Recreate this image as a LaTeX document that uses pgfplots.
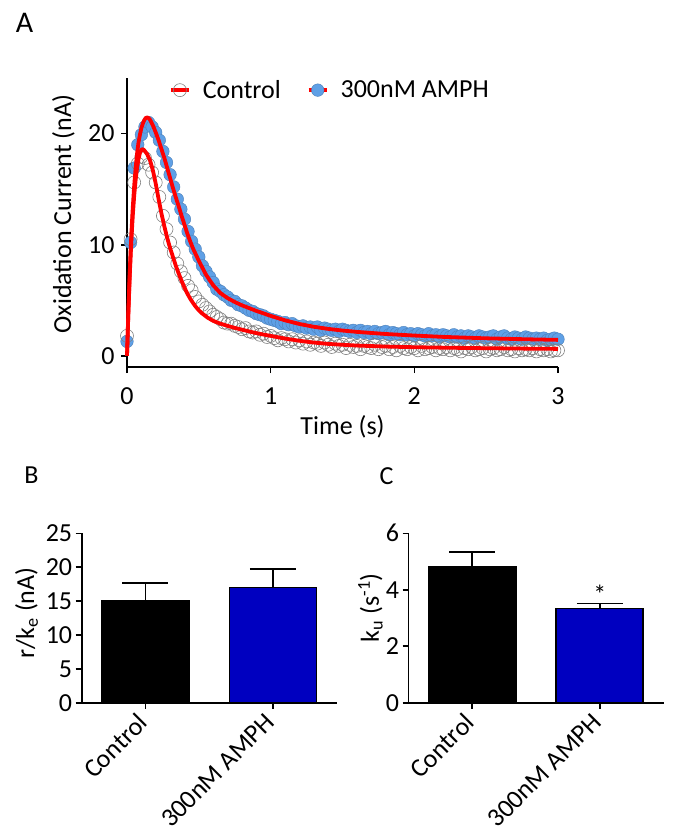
\documentclass[border=0pt]{standalone}
\usepackage{fontspec}
\setmainfont{Carlito}
\usepackage{pgfplots}
\usepackage{pgfplotstable}
\pgfplotsset{compat=1.18}
\definecolor{ampblue}{RGB}{95,160,230}
\definecolor{barblue}{RGB}{0,0,192}
\newcommand{\fs}{\fontsize{26pt}{31pt}\selectfont}

\pgfplotstableread{
t ctrl amph
0.000 1.8 1.3
0.025 10.5 10.2
0.050 15.6 16.9
0.075 17.3 19.0
0.100 17.9 19.9
0.125 17.8 20.6
0.150 17.2 21.0
0.175 16.5 20.6
0.200 15.6 20.1
0.225 14.3 19.4
0.250 12.6 18.4
0.275 11.4 17.4
0.300 10.2 16.3
0.325 9.3 15.2
0.350 8.3 14.1
0.375 7.6 13.2
0.400 7.0 12.3
0.425 6.3 11.2
0.450 5.9 10.3
0.475 5.3 9.6
0.500 4.9 8.9
0.525 4.6 8.1
0.550 4.3 7.6
0.575 4.0 7.1
0.600 3.7 6.6
0.625 3.5 6.0
0.650 3.3 5.8
0.675 3.0 5.5
0.700 2.9 5.3
0.725 2.9 5.0
0.750 2.7 4.9
0.775 2.6 4.6
0.800 2.4 4.5
0.825 2.5 4.3
0.850 2.2 4.1
0.875 2.1 4.0
0.900 2.2 3.8
0.925 1.9 3.7
0.950 2.0 3.6
0.975 1.7 3.4
1.000 1.8 3.3
1.025 1.6 3.2
1.050 1.4 3.1
1.075 1.6 2.9
1.100 1.5 3.0
1.125 1.3 2.8
1.150 1.5 2.9
1.175 1.2 2.7
1.200 1.4 2.6
1.225 1.1 2.7
1.250 1.3 2.5
1.275 1.0 2.6
1.300 1.2 2.4
1.325 1.1 2.6
1.350 0.9 2.3
1.375 1.2 2.5
1.400 1.0 2.4
1.425 0.8 2.3
1.450 1.1 2.4
1.475 0.9 2.2
1.500 1.0 2.4
1.525 0.7 2.3
1.550 1.0 2.2
1.575 0.8 2.3
1.600 0.9 2.1
1.625 0.6 2.3
1.650 0.9 2.1
1.675 0.8 2.2
1.700 0.7 2.0
1.725 1.0 2.2
1.750 0.6 2.0
1.775 0.8 2.1
1.800 0.9 2.2
1.825 0.6 1.9
1.850 0.8 2.1
1.875 0.5 2.0
1.900 0.9 1.9
1.925 0.7 2.1
1.950 0.6 1.9
1.975 0.8 2.0
2.000 0.7 1.8
2.025 0.5 2.0
2.050 0.9 1.9
2.075 0.6 1.8
2.100 0.7 2.0
2.125 0.8 1.8
2.150 0.5 1.9
2.175 0.7 1.7
2.200 0.6 1.9
2.225 0.8 1.8
2.250 0.5 1.7
2.275 0.7 1.9
2.300 0.6 1.7
2.325 0.4 1.8
2.350 0.7 1.6
2.375 0.6 1.8
2.400 0.8 1.7
2.425 0.5 1.6
2.450 0.6 1.8
2.475 0.7 1.7
2.500 0.4 1.6
2.525 0.6 1.7
2.550 0.7 1.8
2.575 0.5 1.5
2.600 0.6 1.7
2.625 0.8 1.8
2.650 0.5 1.6
2.675 0.6 1.5
2.700 0.4 1.7
2.725 0.7 1.6
2.750 0.5 1.5
2.775 0.6 1.7
2.800 0.5 1.6
2.825 0.7 1.5
2.850 0.4 1.6
2.875 0.6 1.5
2.900 0.5 1.6
2.925 0.6 1.4
2.950 0.4 1.5
2.975 0.5 1.6
3.000 0.5 1.5
}\markdata

\pgfplotsset{gp/.style={
  scale only axis,
  anchor=south west,
  axis x line*=bottom, axis y line*=left,
  axis line style={line width=1.6pt, black, -},
  tick style={line width=1.6pt, black},
  major tick length=6pt,
  tick align=outside,
  ticklabel style={font=\fs},
  /pgf/number format/assume math mode=true,
  clip=false,
},
errstyle/.style={error bars/.cd, y dir=plus, y explicit,
  error bar style={line width=1.6pt, black},
  error mark options={rotate=90, line width=1.6pt, mark size=23pt, black}},
rotlab/.style={xticklabel style={xshift=-9pt, yshift=-3pt, rotate=45, anchor=north east, inner sep=0pt}}
}

\begin{document}
\begin{tikzpicture}
\path[use as bounding box] (0pt,0pt) rectangle (674pt,-840pt);

% Panel A
\begin{axis}[gp,
  clip mode=individual, clip marker paths=true,
  at={(127pt,-367pt)}, width=431pt, height=289pt,
  xmin=0, xmax=3, ymin=-1, ymax=25,
  xtick={0,1,2,3}, ytick={0,10,20},
  xticklabel style={yshift=-11pt},
  yticklabel style={xshift=-3pt},
  xlabel={Time (s)}, ylabel={Oxidation Current (nA)},
  every axis y label/.style={at={(axis description cs:-0.121,0.53)}, rotate=90, anchor=south, inner sep=0pt, font=\fs},
  every axis x label/.style={at={(axis description cs:0.5,-0.166)}, anchor=north, inner sep=0pt, font=\fs},
  legend image code/.code={\draw[mark repeat=2,mark phase=2,#1] plot coordinates {(0pt,0pt) (9pt,0pt) (18pt,0pt)};},
  legend style={draw=none, fill=none, font=\fs, legend columns=2, at={(axis description cs:0.097,0.958)}, anchor=west, inner sep=0pt,
    /tikz/every odd column/.append style={column sep=10pt},
    /tikz/every even column/.append style={column sep=24pt}},
  legend cell align=left,
]
\addlegendimage{red, line width=3.8pt, mark=o, mark size=6.5pt, mark options={draw=black!50, line width=0.6pt}}
\addlegendentry{Control}
\addlegendimage{red, line width=3.8pt, mark=*, mark size=6.3pt, mark options={fill=ampblue, draw=ampblue!80!black, line width=0.4pt}}
\addlegendentry{300nM AMPH}
\addplot[forget plot, only marks, mark=*, mark size=6.3pt, mark options={fill=ampblue, draw=ampblue!80!black, line width=0.4pt}] table[x=t,y=amph]{\markdata};
\addplot[forget plot, only marks, mark=o, mark size=6.5pt, mark options={draw=black!50, line width=0.6pt}] table[x=t,y=ctrl]{\markdata};
\addplot[forget plot, red, line width=3.8pt, line join=round, no marks] coordinates {
(0,0) (0.01,4.0) (0.02,7.5) (0.03,10.3) (0.04,12.6) (0.05,14.4) (0.06,15.8) (0.07,16.9)
(0.08,17.7) (0.09,18.25) (0.10,18.55) (0.11,18.6) (0.12,18.5) (0.14,18.15) (0.16,17.6)
(0.18,16.7) (0.20,15.5) (0.22,14.1) (0.24,12.8) (0.26,11.65) (0.28,10.6) (0.30,9.7)
(0.32,8.9) (0.34,8.1) (0.36,7.4) (0.38,6.75) (0.40,6.15) (0.42,5.6) (0.44,5.15)
(0.46,4.75) (0.48,4.4) (0.50,4.1) (0.52,3.85) (0.56,3.45) (0.60,3.15) (0.65,2.9)
(0.70,2.7) (0.75,2.52) (0.80,2.36) (0.85,2.2) (0.90,2.05) (0.95,1.92) (1.00,1.8)
(1.10,1.56) (1.20,1.36) (1.30,1.2) (1.40,1.08) (1.50,1.0) (1.60,0.93) (1.80,0.84)
(2.00,0.78) (2.20,0.74) (2.50,0.69) (2.80,0.65) (3.00,0.63)};
\addplot[forget plot, red, line width=3.8pt, line join=round, no marks] coordinates {
(0,0) (0.01,4.2) (0.02,7.8) (0.03,10.9) (0.04,13.3) (0.05,15.3) (0.06,16.9) (0.07,18.2)
(0.08,19.2) (0.09,19.9) (0.10,20.5) (0.11,20.9) (0.12,21.2) (0.13,21.4) (0.14,21.45)
(0.15,21.4) (0.16,21.25) (0.18,20.75) (0.20,20.1) (0.22,19.4) (0.24,18.6) (0.26,17.8)
(0.28,16.9) (0.30,16.0) (0.32,15.1) (0.34,14.25) (0.36,13.45) (0.38,12.6) (0.40,11.8)
(0.42,11.0) (0.44,10.3) (0.46,9.65) (0.48,9.1) (0.50,8.55) (0.55,7.3) (0.60,6.35)
(0.65,5.65) (0.70,5.2) (0.75,4.85) (0.80,4.55) (0.85,4.3) (0.90,4.05) (1.00,3.6)
(1.10,3.2) (1.20,2.87) (1.30,2.62) (1.40,2.43) (1.50,2.28) (1.60,2.16) (1.80,1.97)
(2.00,1.83) (2.20,1.71) (2.50,1.58) (2.80,1.49) (3.00,1.44)};
\end{axis}

% Panel B
\begin{axis}[gp, rotlab,
  at={(81.7pt,-702.7pt)}, width=255pt, height=169.4pt,
  xmin=-0.5, xmax=1.5, ymin=0, ymax=25,
  xtick={0,1}, xticklabels={Control,300nM AMPH},
  ytick={0,5,10,15,20,25},
  ylabel={r/k\textsubscript{e} (nA)},
  every axis y label/.style={at={(axis description cs:-0.171,0.53)}, rotate=90, anchor=south, inner sep=0pt, font=\fs},
]
\addplot[ybar, bar width=87pt, bar shift=0pt, fill=black, draw=black, line width=1.6pt, errstyle] coordinates {(0,15.0) +- (0,2.7)};
\addplot[ybar, bar width=87pt, bar shift=0pt, fill=barblue, draw=black, line width=1.6pt, errstyle] coordinates {(1,17.0) +- (0,2.75)};
\end{axis}

% Panel C
\begin{axis}[gp, rotlab,
  at={(408.5pt,-702.7pt)}, width=255pt, height=169.4pt,
  xmin=-0.5, xmax=1.5, ymin=0, ymax=6,
  xtick={0,1}, xticklabels={Control,300nM AMPH},
  ytick={0,2,4,6},
  ylabel={k\textsubscript{u} (s\textsuperscript{-1})},
  every axis y label/.style={at={(axis description cs:-0.1,0.56)}, rotate=90, anchor=south, inner sep=0pt, font=\fs},
]
\addplot[ybar, bar width=87pt, bar shift=0pt, fill=black, draw=black, line width=1.6pt, errstyle] coordinates {(0,4.82) +- (0,0.51)};
\addplot[ybar, bar width=87pt, bar shift=0pt, fill=barblue, draw=black, line width=1.6pt, errstyle] coordinates {(1,3.34) +- (0,0.18)};
\node[font=\fs] at (axis cs:1,3.85) {*};
\end{axis}

\node[font=\fontsize{30pt}{34pt}\selectfont] at (24.5pt,-23pt) {A};
\node[font=\fs] at (31.5pt,-475pt) {B};
\node[font=\fs] at (386.5pt,-476.5pt) {C};
\end{tikzpicture}
\end{document}
